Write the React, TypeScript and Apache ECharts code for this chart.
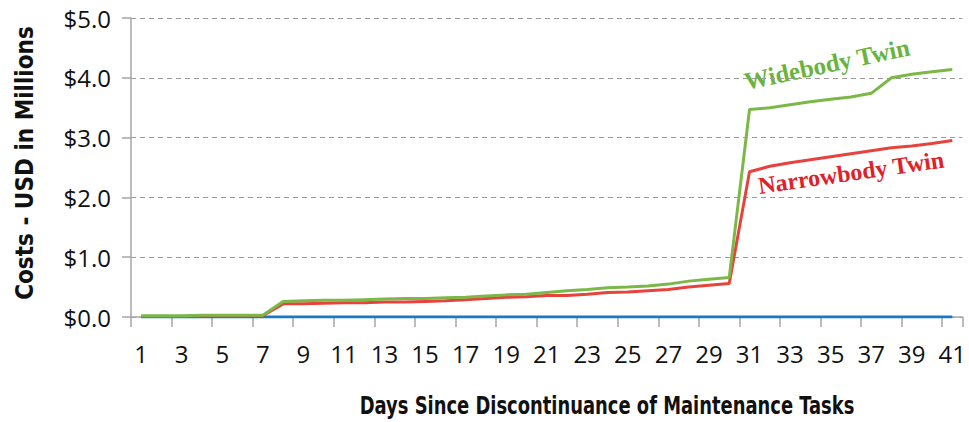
import React, { useEffect, useRef } from "react";
import * as echarts from "echarts";

const days: string[] = Array.from({ length: 41 }, (_, i) => String(i + 1));
const widebody: number[] = [
  0.02, 0.02, 0.02, 0.03, 0.03, 0.03, 0.03, 0.26, 0.27, 0.28,
  0.28, 0.29, 0.3, 0.31, 0.31, 0.32, 0.33, 0.35, 0.37, 0.38,
  0.41, 0.44, 0.46, 0.49, 0.5, 0.52, 0.55, 0.6, 0.63, 0.66,
  3.47, 3.5, 3.55, 3.6, 3.64, 3.68, 3.74, 4.0, 4.06, 4.1, 4.14,
];
const narrowbody: number[] = [
  0.01, 0.01, 0.01, 0.02, 0.02, 0.02, 0.02, 0.22, 0.22, 0.23,
  0.24, 0.24, 0.25, 0.25, 0.26, 0.27, 0.29, 0.31, 0.33, 0.34,
  0.36, 0.36, 0.38, 0.41, 0.42, 0.44, 0.46, 0.5, 0.53, 0.56,
  2.43, 2.52, 2.58, 2.63, 2.68, 2.73, 2.78, 2.83, 2.86, 2.9, 2.95,
];
const baseline: number[] = Array.from({ length: 41 }, () => 0);

const xTitle = "Days Since Discontinuance of Maintenance Tasks";
const yTitle = "Costs - USD in Millions";
const wideLabel = "Widebody Twin";
const narrowLabel = "Narrowbody Twin";

const tickFont = "'Open Sans', 'Noto Sans', sans-serif";
const titleFont = "'DejaVu Sans Condensed', 'Open Sans', sans-serif";

export default function App() {
  const ref = useRef<HTMLDivElement>(null);
  useEffect(() => {
    if (!ref.current) return;
    const chart = echarts.init(ref.current, null, { renderer: "svg" });
    chart.setOption({
      animation: false,
      backgroundColor: "#ffffff",
      grid: { left: 131, right: 4, top: 18, bottom: 105, containLabel: false },
      xAxis: {
        type: "category",
        data: days,
        boundaryGap: true,
        axisLine: { show: true, lineStyle: { color: "#a6a6a6", width: 1.5 } },
        axisTick: { show: true, interval: 1, length: 10, lineStyle: { color: "#a6a6a6", width: 1.5 } },
        axisLabel: { interval: 1, color: "#111", fontFamily: tickFont, fontSize: 24, margin: 24 },
        splitLine: { show: false },
      },
      yAxis: {
        type: "value",
        min: 0,
        max: 5,
        interval: 1,
        axisLine: { show: true, lineStyle: { color: "#a6a6a6", width: 1.5 } },
        axisTick: { show: true, length: 9, lineStyle: { color: "#a6a6a6", width: 1.5 } },
        axisLabel: {
          color: "#111",
          fontFamily: tickFont,
          fontSize: 24,
          margin: 20,
          formatter: (v: number) => "$" + v.toFixed(1),
        },
        splitLine: { show: true, lineStyle: { color: "#9a9a9a", type: [5, 4], width: 1 } },
      },
      series: [
        {
          name: "Baseline",
          type: "line",
          data: baseline,
          symbol: "none",
          lineStyle: { color: "#1b78c2", width: 3 },
          z: 1,
        },
        {
          name: "Narrowbody Twin",
          type: "line",
          data: narrowbody,
          symbol: "none",
          lineStyle: { color: "#e8423d", width: 3 },
          z: 2,
        },
        {
          name: "Widebody Twin",
          type: "line",
          data: widebody,
          symbol: "none",
          lineStyle: { color: "#7cb848", width: 3 },
          z: 3,
        },
      ],
      graphic: [
        {
          type: "text",
          x: 607,
          y: 406,
          scaleX: 0.83,
          style: {
            text: xTitle,
            font: "bold 24px " + titleFont,
            fill: "#111",
            textAlign: "center",
            textVerticalAlign: "middle",
          },
        },
        {
          type: "text",
          x: 25,
          y: 163,
          rotation: Math.PI / 2,
          style: {
            text: yTitle,
            font: "bold 24px " + titleFont,
            fill: "#111",
            textAlign: "center",
            textVerticalAlign: "middle",
          },
        },
        {
          type: "text",
          x: 747,
          y: 94,
          rotation: (12 * Math.PI) / 180,
          style: {
            text: wideLabel,
            font: "bold 25px 'Liberation Serif', 'DejaVu Serif', serif",
            fill: "#6ab43c",
            textAlign: "left",
            textVerticalAlign: "bottom",
          },
        },
        {
          type: "text",
          x: 760,
          y: 198,
          rotation: (8.2 * Math.PI) / 180,
          style: {
            text: narrowLabel,
            font: "bold 24px 'Liberation Serif', 'DejaVu Serif', serif",
            fill: "#e02128",
            textAlign: "left",
            textVerticalAlign: "bottom",
          },
        },
      ],
    });
    return () => chart.dispose();
  }, []);
  return (
    <div
      ref={ref}
      style={{ position: "fixed", left: 0, top: 0, width: 969, height: 422 }}
    />
  );
}
